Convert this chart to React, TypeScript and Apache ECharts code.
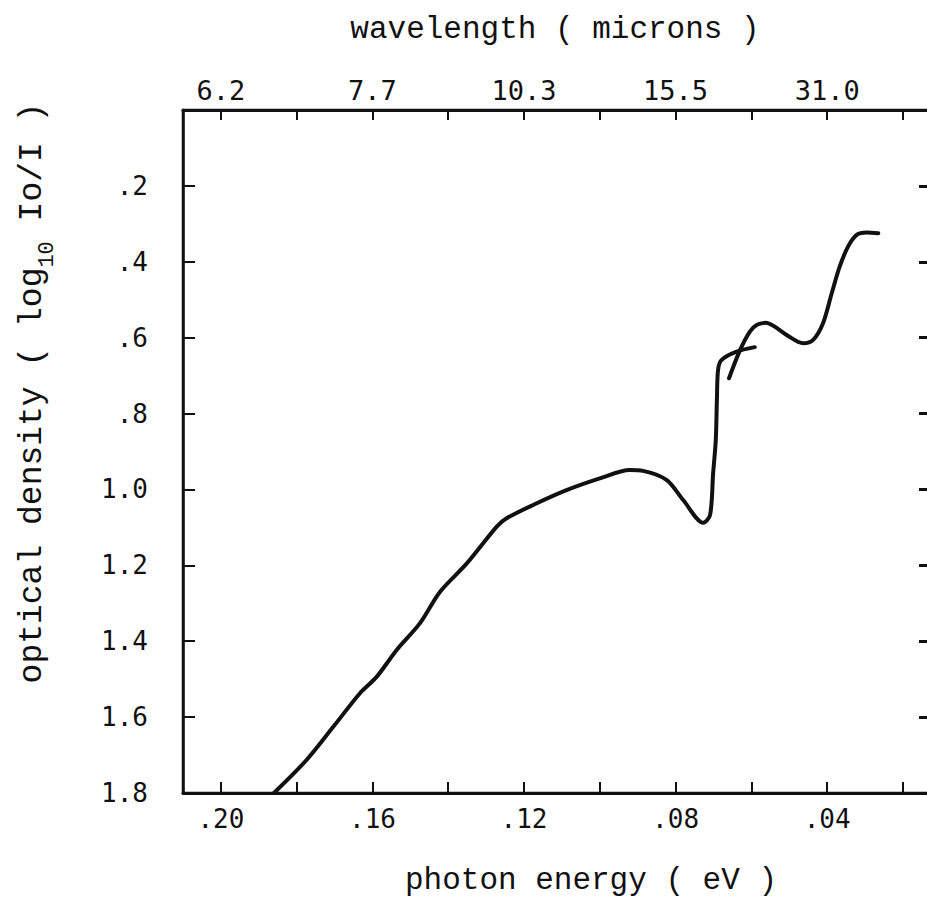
import React, { useEffect, useRef } from "react";
import * as echarts from "echarts";

// ---- tick positions and labels ----
const energyTickValues = [0.2, 0.18, 0.16, 0.14, 0.12, 0.1, 0.08, 0.06, 0.04, 0.02];
const energyLabelValues = [0.2, 0.16, 0.12, 0.08, 0.04];
const energyLabels = [".20", ".16", ".12", ".08", ".04"];
const wavelengthLabels = ["6.2", "7.7", "10.3", "15.5", "31.0"];
const densityTickValues = [0.2, 0.4, 0.6, 0.8, 1.0, 1.2, 1.4, 1.6];
const densityLabelValues = [0.2, 0.4, 0.6, 0.8, 1.0, 1.2, 1.4, 1.6, 1.8];
const densityLabels = [".2", ".4", ".6", ".8", "1.0", "1.2", "1.4", "1.6", "1.8"];

// ---- main trace (photon energy eV, optical density) ----
const energyA = [
  0.186, 0.1774, 0.1703, 0.1633, 0.1589, 0.1536, 0.1475, 0.1422, 0.1351, 0.1272,
  0.1246, 0.1176, 0.1088, 0.1, 0.0921, 0.0886, 0.0824, 0.078, 0.0727, 0.0709,
  0.0701, 0.0694, 0.0691, 0.0688, 0.0679, 0.0639, 0.0591,
];
const densityA = [
  1.8, 1.713, 1.625, 1.537, 1.494, 1.423, 1.353, 1.27, 1.195, 1.098,
  1.076, 1.041, 1.002, 0.971, 0.949, 0.951, 0.975, 1.028, 1.088, 1.067,
  0.958, 0.87, 0.764, 0.685, 0.659, 0.637, 0.625,
];

// ---- second (overlapping) trace ----
const energyB = [
  0.0659, 0.063, 0.0604, 0.0585, 0.0562, 0.054, 0.0507, 0.0463, 0.0437, 0.0411,
  0.0388, 0.0367, 0.0345, 0.0322, 0.0296, 0.0265,
];
const densityB = [
  0.707, 0.633, 0.584, 0.566, 0.561, 0.57, 0.593, 0.615, 0.606, 0.562,
  0.483, 0.413, 0.36, 0.329, 0.323, 0.325,
];

const zip = (xs: number[], ys: number[]) => xs.map((x, i) => [x, ys[i]]);
const lookup = (vals: number[], labels: string[]) => (v: number) => {
  const i = vals.findIndex((t) => Math.abs(t - v) < 1e-6);
  return i >= 0 ? labels[i] : "";
};

const INK = "#111";
const TYPE_FONT = '"Liberation Mono", monospace';
const LETTER_FONT = '"DejaVu Sans Mono", monospace';

export default function App() {
  const ref = useRef<HTMLDivElement>(null);

  useEffect(() => {
    if (!ref.current) return;
    const chart = echarts.init(ref.current, undefined, { renderer: "svg" });

    const titleSize = 33;
    const cw = titleSize * 0.6;
    const subSize = 22;
    const cws = subSize * 0.6;
    const part1 = "optical density ( log";
    const part2 = "10";
    const part3 = "Io/I )";
    const total = part1.length * cw + part2.length * cws + (part3.length + 1) * cw;
    const start = -total / 2;

    const xCommon = {
      type: "value",
      min: 0.0126,
      max: 0.21,
      inverse: true,
      splitLine: { show: false },
      axisLine: { show: true, onZero: false, lineStyle: { color: INK, width: 3 } },
    };
    const yCommon = {
      type: "value",
      min: 0,
      max: 1.8,
      inverse: true,
      splitLine: { show: false },
    };

    chart.setOption({
      animation: false,
      backgroundColor: "#fff",
      grid: {
        left: 183,
        top: 110,
        right: -4,
        bottom: 109,
        containLabel: false,
        outerBoundsMode: "none",
        show: true,
        borderColor: INK,
        borderWidth: 2.5,
        backgroundColor: "transparent",
      },
      xAxis: [
        {
          ...xCommon,
          position: "bottom",
          axisTick: {
            show: true,
            inside: true,
            length: 11,
            customValues: energyTickValues,
            lineStyle: { color: INK, width: 2 },
          },
          axisLabel: {
            customValues: energyLabelValues,
            formatter: lookup(energyLabelValues, energyLabels),
            margin: 13,
            color: INK,
            fontFamily: LETTER_FONT,
            fontSize: 26,
          },
        },
        {
          ...xCommon,
          position: "top",
          axisTick: {
            show: true,
            inside: true,
            length: 10,
            customValues: energyTickValues,
            lineStyle: { color: INK, width: 2 },
          },
          axisLabel: {
            customValues: energyLabelValues,
            formatter: lookup(energyLabelValues, wavelengthLabels),
            margin: 6,
            color: INK,
            fontFamily: LETTER_FONT,
            fontSize: 27,
          },
        },
      ],
      yAxis: [
        {
          ...yCommon,
          position: "left",
          axisLine: { show: true, onZero: false, lineStyle: { color: INK, width: 2.5 } },
          axisTick: {
            show: true,
            inside: true,
            length: 12,
            customValues: densityTickValues,
            lineStyle: { color: INK, width: 2 },
          },
          axisLabel: {
            customValues: densityLabelValues,
            formatter: lookup(densityLabelValues, densityLabels),
            margin: 35,
            padding: [12, 0, 0, 0],
            color: INK,
            fontFamily: LETTER_FONT,
            fontSize: 26,
          },
        },
        {
          ...yCommon,
          position: "right",
          axisLine: { show: true, onZero: false, lineStyle: { color: INK, width: 3 } },
          axisTick: {
            show: true,
            inside: true,
            length: 12,
            customValues: densityTickValues,
            lineStyle: { color: INK, width: 3 },
          },
          axisLabel: { show: false },
        },
      ],
      graphic: [
        {
          type: "text",
          x: 555,
          y: 29,
          style: {
            text: "wavelength ( microns )",
            fontFamily: TYPE_FONT,
            fontSize: 31,
            fill: INK,
            align: "center",
            verticalAlign: "middle",
          },
        },
        {
          type: "text",
          x: 591,
          y: 880,
          style: {
            text: "photon energy ( eV )",
            fontFamily: TYPE_FONT,
            fontSize: 31,
            fill: INK,
            align: "center",
            verticalAlign: "middle",
          },
        },
        {
          type: "group",
          x: 32,
          y: 393,
          rotation: Math.PI / 2,
          children: [
            {
              type: "text",
              x: start,
              y: 0,
              style: {
                text: part1,
                fontFamily: TYPE_FONT,
                fontSize: titleSize,
                fill: INK,
                align: "left",
                verticalAlign: "middle",
              },
            },
            {
              type: "text",
              x: start + part1.length * cw,
              y: 15,
              style: {
                text: part2,
                fontFamily: TYPE_FONT,
                fontSize: subSize,
                fill: INK,
                align: "left",
                verticalAlign: "middle",
              },
            },
            {
              type: "text",
              x: start + part1.length * cw + part2.length * cws + cw,
              y: 0,
              style: {
                text: part3,
                fontFamily: TYPE_FONT,
                fontSize: titleSize,
                fill: INK,
                align: "left",
                verticalAlign: "middle",
              },
            },
          ],
        },
      ],
      series: [
        {
          type: "line",
          xAxisIndex: 0,
          yAxisIndex: 0,
          data: zip(energyA, densityA),
          showSymbol: false,
          smooth: 0.3,
          lineStyle: { color: INK, width: 4, cap: "round", join: "round" },
        },
        {
          type: "line",
          xAxisIndex: 0,
          yAxisIndex: 0,
          data: zip(energyB, densityB),
          showSymbol: false,
          smooth: 0.3,
          lineStyle: { color: INK, width: 4, cap: "round", join: "round" },
        },
      ],
    });

    return () => chart.dispose();
  }, []);

  return (
    <div
      ref={ref}
      style={{ position: "fixed", left: 0, top: 0, width: 927, height: 902, background: "#fff" }}
    />
  );
}
